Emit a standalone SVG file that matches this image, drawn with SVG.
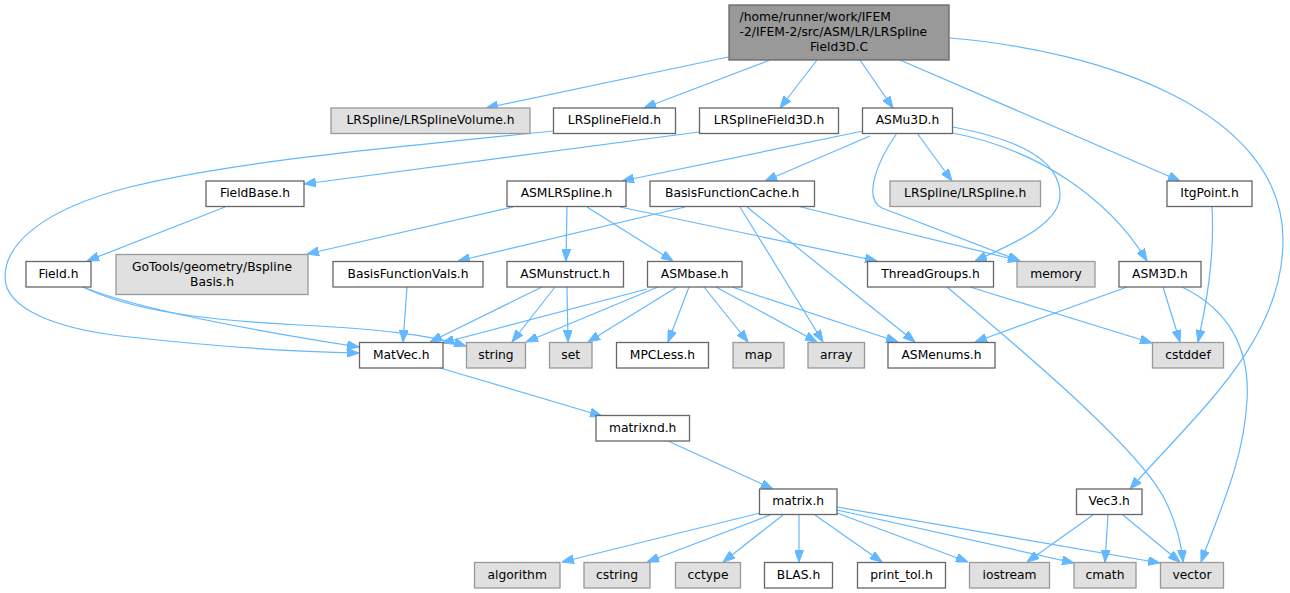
<svg xmlns="http://www.w3.org/2000/svg" width="1290" height="593" viewBox="0 0 1290 593">
<style>
text{font-family:"DejaVu Sans","Liberation Sans",sans-serif;font-size:12.3px;fill:#000;text-anchor:middle}
.n rect{fill:#ffffff;stroke:#666666;stroke-width:1.3}
.g rect{fill:#e0e0e0;stroke:#999999;stroke-width:1.3}
.r rect{fill:#999999;stroke:#666666;stroke-width:1.3}
#edges path{fill:none;stroke:#63b8ff;stroke-width:1.2;marker-end:url(#ah)}
</style>
<defs>
<marker id="ah" markerUnits="userSpaceOnUse" markerWidth="12" markerHeight="9" refX="12" refY="4.5" orient="auto">
<path d="M0,0 L12,4.5 L0,9 z" fill="#63b8ff" stroke="#63b8ff" stroke-width="1"/>
</marker>
</defs>
<rect width="1290" height="593" fill="#ffffff"/>
<g id="edges">
<path d="M728,57 L486,108"/>
<path d="M770,60 L644,108"/>
<path d="M817,60 L780,108"/>
<path d="M860,60 L893,108"/>
<path d="M900,60 L1180,181"/>
<path d="M949,38 C1100,50 1283,110 1283,240 C1283,340 1200,410 1130,489"/>
<path d="M863,131 L622,181"/>
<path d="M870,136 L765,181"/>
<path d="M917,133 L952,181"/>
<path d="M897,133 C878,160 862,198 882,208 L1020,261"/>
<path d="M953,127 C1020,140 1060,160 1060,195 C1060,225 1010,245 975,261"/>
<path d="M953,133 C1040,150 1110,200 1147,261"/>
<path d="M553,131 C400,147 240,160 130,187 C40,210 5,245 5,277 C5,310 60,330 130,337 C220,347 300,352 359,353"/>
<path d="M699,132 L304,184"/>
<path d="M225,207 L87,261"/>
<path d="M83,287 C140,310 250,330 359,347"/>
<path d="M83,287 C130,310 200,320 300,325 C380,329 430,335 466,346"/>
<path d="M513,207 L307,254"/>
<path d="M567,207 L566,261"/>
<path d="M587,207 L673,261"/>
<path d="M620,207 L877,261"/>
<path d="M685,207 L458,261"/>
<path d="M740,207 L823,342"/>
<path d="M747,207 L915,342"/>
<path d="M797,206 L1020,261"/>
<path d="M407,287 L403,342"/>
<path d="M542,287 L430,342"/>
<path d="M555,287 L512,342"/>
<path d="M567,287 L568,342"/>
<path d="M647,289 L442,343"/>
<path d="M658,287 L526,342"/>
<path d="M677,287 L588,342"/>
<path d="M689,287 L668,342"/>
<path d="M704,287 L748,342"/>
<path d="M716,287 L817,342"/>
<path d="M732,287 L898,342"/>
<path d="M970,287 L1152,343"/>
<path d="M947,287 C1030,357 1140,450 1165,500 C1175,520 1181,540 1183,562"/>
<path d="M1127,287 L975,342"/>
<path d="M1163,287 L1180,342"/>
<path d="M1182,287 C1230,310 1250,350 1247,400 C1244,460 1220,510 1201,562"/>
<path d="M1212,207 C1215,260 1205,310 1198,342"/>
<path d="M440,368 L602,416"/>
<path d="M668,441 L773,489"/>
<path d="M760,513 L562,562"/>
<path d="M770,515 L647,562"/>
<path d="M783,515 L723,562"/>
<path d="M799,515 L799,562"/>
<path d="M815,515 L882,562"/>
<path d="M837,513 L968,562"/>
<path d="M837,510 L1074,563"/>
<path d="M837,507 L1160,563"/>
<path d="M1093,515 L1027,562"/>
<path d="M1108,515 L1105,562"/>
<path d="M1123,515 L1180,562"/>
</g>
<g id="root" class="r"><rect x="729" y="5" width="220" height="55"/>
<text x="739.5" y="20.5" style="text-anchor:start">/home/runner/work/IFEM</text>
<text x="739.5" y="35.5" style="text-anchor:start">-2/IFEM-2/src/ASM/LR/LRSpline</text>
<text x="839" y="50.5">Field3D.C</text></g>
<g id="LRSplineVolume" class="g"><rect x="331" y="108" width="199" height="25.5"/><text x="430.5" y="124">LRSpline/LRSplineVolume.h</text></g>
<g id="LRSplineField" class="n"><rect x="553.5" y="108" width="122" height="25.5"/><text x="614.5" y="124">LRSplineField.h</text></g>
<g id="LRSplineField3D" class="n"><rect x="699.5" y="108" width="139" height="25.5"/><text x="769" y="124">LRSplineField3D.h</text></g>
<g id="ASMu3D" class="n"><rect x="862.5" y="108" width="90" height="25.5"/><text x="907.5" y="124">ASMu3D.h</text></g>
<g id="FieldBase" class="n"><rect x="206" y="181" width="98" height="25.5"/><text x="255" y="197">FieldBase.h</text></g>
<g id="ASMLRSpline" class="n"><rect x="507" y="181" width="119" height="25.5"/><text x="566.5" y="197">ASMLRSpline.h</text></g>
<g id="BasisFunctionCache" class="n"><rect x="650" y="181" width="164.5" height="25.5"/><text x="732.2" y="197">BasisFunctionCache.h</text></g>
<g id="LRSpline" class="g"><rect x="890" y="181" width="150.5" height="25.5"/><text x="965.2" y="197">LRSpline/LRSpline.h</text></g>
<g id="ItgPoint" class="n"><rect x="1167" y="181" width="85" height="25.5"/><text x="1209.5" y="197">ItgPoint.h</text></g>
<g id="Field" class="n"><rect x="26" y="261.5" width="65" height="25.5"/><text x="58.5" y="277.5">Field.h</text></g>
<g id="GoTools" class="g"><rect x="116" y="254.5" width="192" height="40"/><text x="212" y="270.5">GoTools/geometry/Bspline</text><text x="212" y="285.5">Basis.h</text></g>
<g id="BasisFunctionVals" class="n"><rect x="333" y="261.5" width="150" height="25.5"/><text x="408" y="277.5">BasisFunctionVals.h</text></g>
<g id="ASMunstruct" class="n"><rect x="507" y="261.5" width="116.5" height="25.5"/><text x="565.2" y="277.5">ASMunstruct.h</text></g>
<g id="ASMbase" class="n"><rect x="647.5" y="261.5" width="94.5" height="25.5"/><text x="694.7" y="277.5">ASMbase.h</text></g>
<g id="ThreadGroups" class="n"><rect x="867.5" y="261.5" width="126" height="25.5"/><text x="930.5" y="277.5">ThreadGroups.h</text></g>
<g id="memory" class="g"><rect x="1017" y="261.5" width="78" height="25.5"/><text x="1056" y="277.5">memory</text></g>
<g id="ASM3D" class="n"><rect x="1119" y="261.5" width="82" height="25.5"/><text x="1160" y="277.5">ASM3D.h</text></g>
<g id="MatVec" class="n"><rect x="359.5" y="342.5" width="83.5" height="25.5"/><text x="401.2" y="358.5">MatVec.h</text></g>
<g id="string" class="g"><rect x="466.5" y="342.5" width="59" height="25.5"/><text x="496" y="358.5">string</text></g>
<g id="set" class="g"><rect x="549.5" y="342.5" width="42.5" height="25.5"/><text x="570.7" y="358.5">set</text></g>
<g id="MPCLess" class="n"><rect x="616.5" y="342.5" width="92" height="25.5"/><text x="662.5" y="358.5">MPCLess.h</text></g>
<g id="map" class="g"><rect x="733" y="342.5" width="51" height="25.5"/><text x="758.5" y="358.5">map</text></g>
<g id="array" class="g"><rect x="808" y="342.5" width="56.5" height="25.5"/><text x="836.2" y="358.5">array</text></g>
<g id="ASMenums" class="n"><rect x="888" y="342.5" width="107" height="25.5"/><text x="941.5" y="358.5">ASMenums.h</text></g>
<g id="cstddef" class="g"><rect x="1152.5" y="342.5" width="71" height="25.5"/><text x="1188" y="358.5">cstddef</text></g>
<g id="matrixnd" class="n"><rect x="596" y="415.5" width="93.5" height="25.5"/><text x="642.7" y="431.5">matrixnd.h</text></g>
<g id="matrix" class="n"><rect x="759.5" y="489" width="77.5" height="25.5"/><text x="798.2" y="505">matrix.h</text></g>
<g id="Vec3" class="n"><rect x="1076.5" y="489" width="65.5" height="25.5"/><text x="1109.2" y="505">Vec3.h</text></g>
<g id="algorithm" class="g"><rect x="474.5" y="562.5" width="85.5" height="25.5"/><text x="517.2" y="578.5">algorithm</text></g>
<g id="cstring" class="g"><rect x="584" y="562.5" width="66" height="25.5"/><text x="617" y="578.5">cstring</text></g>
<g id="cctype" class="g"><rect x="675.5" y="562.5" width="65" height="25.5"/><text x="708" y="578.5">cctype</text></g>
<g id="BLAS" class="n"><rect x="764.5" y="562.5" width="68" height="25.5"/><text x="798.5" y="578.5">BLAS.h</text></g>
<g id="print_tol" class="n"><rect x="857.5" y="562.5" width="88" height="25.5"/><text x="901.5" y="578.5">print_tol.h</text></g>
<g id="iostream" class="g"><rect x="969.5" y="562.5" width="80" height="25.5"/><text x="1009.5" y="578.5">iostream</text></g>
<g id="cmath" class="g"><rect x="1074" y="562.5" width="62" height="25.5"/><text x="1105" y="578.5">cmath</text></g>
<g id="vector" class="g"><rect x="1160.5" y="562.5" width="63" height="25.5"/><text x="1192" y="578.5">vector</text></g>
</svg>
